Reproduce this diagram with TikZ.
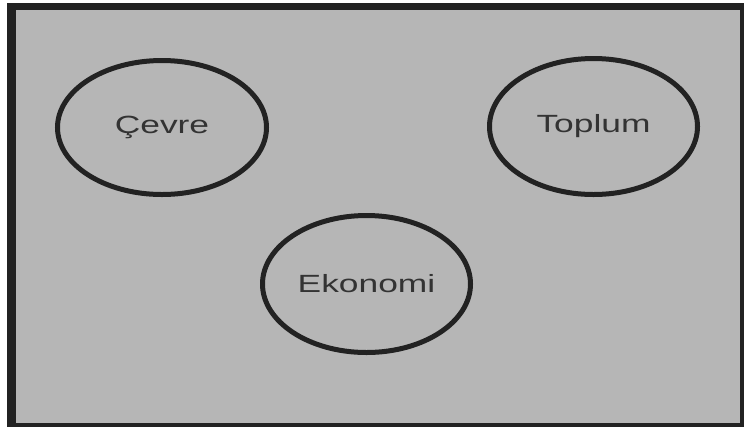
\documentclass[tikz,border=0pt]{standalone}
\usepackage{fontspec}
\setmainfont{Liberation Sans}
\usetikzlibrary{shapes.geometric,positioning}
\definecolor{framegray}{HTML}{B6B6B6}
\definecolor{inkdark}{HTML}{222222}
\newcommand{\widetext}[1]{\scalebox{1.42}[1]{#1}}

\begin{document}
\begin{tikzpicture}[x=1bp, y=-1bp,
        topic/.style={ellipse, draw=inkdark, line width=5bp, fill=framegray,
            inner sep=0pt, text=black!80,
            font=\fontsize{25}{30}\selectfont}]
        \useasboundingbox (0,0) rectangle (744,427);
        \fill[inkdark] (7,3) rectangle (744,427);
        \fill[framegray] (16,10) rectangle (740,423);

        \node[topic, minimum width=209bp, minimum height=134bp] (cevre)
            at (162,127.5) {\widetext{Çevre}};
        \node[topic, minimum width=208bp, minimum height=136bp] (toplum)
            at (593.5,126.5) {\widetext{Toplum}};
        \node[topic, minimum width=208bp, minimum height=137bp] (ekonomi)
            at (366.5,284) {\widetext{Ekonomi}};
    \end{tikzpicture}
\end{document}
